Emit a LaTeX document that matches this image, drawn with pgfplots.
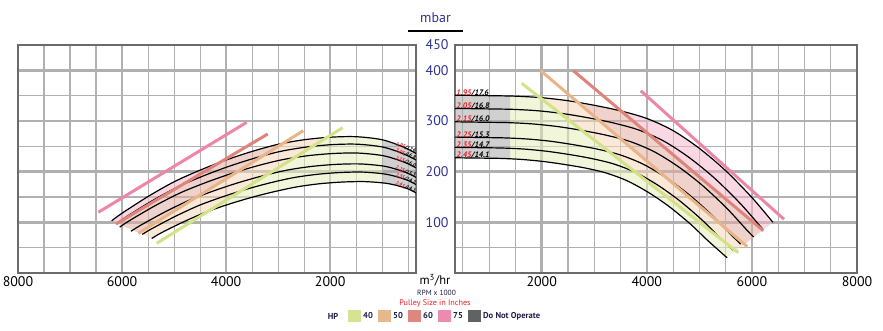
\documentclass[border=0pt]{standalone}
\usepackage{pgfplots}
\pgfplotsset{compat=1.18}
\usepackage{pgfplotstable}
\usepackage{fontspec}
\setmainfont{PT Sans}
\definecolor{framegray}{HTML}{6B6B6B}
\definecolor{gridgray}{HTML}{B0B0B0}
\definecolor{zgreen}{RGB}{230,237,188}
\definecolor{zpeach}{RGB}{246,213,186}
\definecolor{zsalmon}{RGB}{228,173,164}
\definecolor{zpink}{RGB}{244,184,206}
\definecolor{zgray}{RGB}{170,170,170}
\definecolor{lgreen}{HTML}{D2E287}
\definecolor{ltan}{HTML}{E9B487}
\definecolor{lsalmon}{HTML}{DF847A}
\definecolor{lpink}{HTML}{ED86AB}
\definecolor{sgreen}{HTML}{D5E48F}
\definecolor{stan}{HTML}{E7B88C}
\definecolor{ssalmon}{HTML}{DE8780}
\definecolor{spink}{HTML}{EE89B0}
\definecolor{sdark}{HTML}{606264}
\definecolor{navy}{HTML}{2E3192}
\definecolor{lred}{HTML}{ED1C24}
\definecolor{dnavy}{HTML}{1F1D4A}

% ---------- right panel (pressure) curves ----------
\pgfplotstableread{
Q p
350 351
1000 350
1500 349
2000 346
2500 340
3000 331
3500 320
4000 305
4500 281
5000 246
5500 202
6000 149
6400 100
}\RA
\pgfplotstableread{
Q p
350 324.8
962 323.9
1443 323.0
1924 320.2
2405 314.6
2886 306.3
3367 296.1
3848 282.2
4329 260.0
4810 227.6
5291 186.9
5772 137.9
6157 92.5
6208 87
}\RB
\pgfplotstableread{
Q p
350 298.4
922 297.5
1383 296.7
1844 294.1
2305 289.0
2766 281.4
3227 272.0
3688 259.3
4149 238.9
4610 209.1
5071 171.7
5532 126.7
5901 85.0
6034 71
}\RC
\pgfplotstableread{
Q p
350 268.2
874 267.4
1311 266.6
1748 264.3
2185 259.8
2622 252.9
3059 244.5
3496 233.0
3933 214.7
4370 187.9
4807 154.3
5244 113.8
5594 76.4
5787 57
}\RD
\pgfplotstableread{
Q p
350 248.0
841 247.3
1261 246.6
1681 244.5
2102 240.2
2522 233.9
2942 226.1
3362 215.5
3783 198.6
4203 173.8
4623 142.7
5044 105.3
5380 70.7
5646 45
}\RE
\pgfplotstableread{
Q p
350 227.4
805 226.8
1208 226.2
1610 224.2
2013 220.3
2415 214.5
2818 207.4
3220 197.6
3623 182.1
4025 159.4
4428 130.9
4830 96.6
5152 64.8
5528 30
}\RF
\pgfplotstableread{
Q p
350 351
1000 350
1500 349
2000 346
2500 340
3000 331
3500 320
4000 305
4500 281
5000 246
5500 202
6000 149
6400 100
5528 30
5152 64.8
4830 96.6
4428 130.9
4025 159.4
3623 182.1
3220 197.6
2818 207.4
2415 214.5
2013 220.3
1610 224.2
1208 226.2
805 226.8
350 227.4
}\RBand

% ---------- left panel (vacuum) curves ----------
\pgfplotstableread{
Q p
350 236
600 249
1000 263
1500 269
2000 268
2500 263
3000 254
3500 240
4000 223
4500 203
5000 180
5500 151
6000 118
6200 103
}\LA
\pgfplotstableread{
Q p
350 223.0
591 235.3
985 248.5
1478 254.2
1970 253.3
2463 248.5
2955 240.0
3448 226.8
3940 210.7
4433 191.8
4925 170.1
5418 142.7
5910 111.5
6107 97.3
}\LB
\pgfplotstableread{
Q p
350 207.7
585 219.1
975 231.4
1463 236.7
1950 235.8
2438 231.4
2925 223.5
3413 211.2
3900 196.2
4388 178.6
4875 158.4
5363 132.9
5850 103.8
6045 90.6
}\LC
\pgfplotstableread{
Q p
350 188.8
564 199.2
940 210.4
1410 215.2
1880 214.4
2350 210.4
2820 203.2
3290 192.0
3760 178.4
4230 162.4
4700 144.0
5170 120.8
5640 94.4
5828 82.4
}\LD
\pgfplotstableread{
Q p
350 174.6
543 184.3
905 194.6
1358 199.1
1810 198.3
2263 194.6
2715 188.0
3168 177.6
3620 165.0
4073 150.2
4525 133.2
4978 111.7
5430 87.3
5611 76.2
}\LE
\pgfplotstableread{
Q p
350 158.1
525 166.9
875 176.3
1313 180.3
1750 179.6
2188 176.3
2625 170.2
3063 160.8
3500 149.5
3938 136.1
4375 120.6
4813 101.2
5250 79.1
5430 68.0
}\LF
\pgfplotstableread{
Q p
350 236
600 249
1000 263
1500 269
2000 268
2500 263
3000 254
3500 240
4000 223
4500 203
5000 180
5500 151
6000 118
6200 103
5430 68.0
5250 79.1
4813 101.2
4375 120.6
3938 136.1
3500 149.5
3063 160.8
2625 170.2
2188 176.3
1750 179.6
1313 180.3
875 176.3
525 166.9
350 158.1
}\LBand

\pgfplotsset{
  panel/.style={
    scale only axis, height=228bp,
    xmin=350, xmax=8000, ymin=0, ymax=450,
    axis line style={draw=framegray, line width=2.6bp},
    grid=both,
    major grid style={draw=gridgray, line width=2.6bp},
    minor grid style={draw=gridgray, line width=1.1bp},
    xtick={2000,4000,6000,8000},
    xticklabels={2000,4000,6000,8000},
    minor xtick={500,1000,1500,2500,3000,3500,4500,5000,5500,6500,7000,7500},
    minor ytick={50,150,250,350},
    major tick length=0pt, minor tick length=0pt,
    tick style={draw=none},
    xticklabel style={font=\fontsize{14}{14}\selectfont, text=black},
    scaled ticks=false, clip=true,
  },
  crv/.style={black, line width=1.2bp, smooth, no markers},
  pw/.style={line width=3bp, no markers},
  zone/.style={draw=none, fill=#1, fill opacity=0.55, no markers, forget plot},
}
\newcommand{\lblR}{\fontsize{8}{8}\selectfont\bfseries\itshape}
\newcommand{\lblL}{\fontsize{5.2}{5.2}\selectfont\bfseries\itshape}

\begin{document}
\begin{tikzpicture}
\useasboundingbox (0,0) rectangle (883bp,331bp);

% ================= LEFT PANEL =================
\begin{axis}[panel, at={(18bp,58bp)}, anchor=south west, width=398bp,
  x dir=reverse, ytick={100,200,300,400}, yticklabels={}]
  \begin{scope}
    \clip (axis cs:1000,-50) -- (axis cs:7035,-50) -- (axis cs:1000,335.2) -- cycle;
    \addplot[zone=zgreen] table {\LBand};
  \end{scope}
  \begin{scope}
    \clip (axis cs:1000,335.2) -- (axis cs:7035,-50) -- (axis cs:7696,-50) -- (axis cs:1000,377.6) -- cycle;
    \addplot[zone=zpeach] table {\LBand};
  \end{scope}
  \begin{scope}
    \clip (axis cs:1000,377.6) -- (axis cs:7696,-50) -- (axis cs:8524,-50) -- (axis cs:1000,408.3) -- cycle;
    \addplot[zone=zsalmon] table {\LBand};
  \end{scope}
  \begin{scope}
    \clip (axis cs:1000,408.3) -- (axis cs:8524,-50) -- (axis cs:10000,-50) -- (axis cs:10000,500) -- (axis cs:1000,500) -- cycle;
    \addplot[zone=zpink] table {\LBand};
  \end{scope}
  \begin{scope}
    \clip (axis cs:0,-50) rectangle (axis cs:1000,500);
    \addplot[zone=zgray] table {\LBand};
  \end{scope}
  \addplot[crv] table {\LA} node[pos=0, anchor=base east, rotate=-22, font=\lblL, inner sep=0.5bp] {\textcolor{lred}{1.95}/17.6};
  \addplot[crv] table {\LB} node[pos=0, anchor=base east, rotate=-22, font=\lblL, inner sep=0.5bp] {\textcolor{lred}{2.05}/16.8};
  \addplot[crv] table {\LC} node[pos=0, anchor=base east, rotate=-22, font=\lblL, inner sep=0.5bp] {\textcolor{lred}{2.15}/16.0};
  \addplot[crv] table {\LD} node[pos=0, anchor=base east, rotate=-22, font=\lblL, inner sep=0.5bp] {\textcolor{lred}{2.25}/15.3};
  \addplot[crv] table {\LE} node[pos=0, anchor=base east, rotate=-22, font=\lblL, inner sep=0.5bp] {\textcolor{lred}{2.35}/14.7};
  \addplot[crv] table {\LF} node[pos=0, anchor=base east, rotate=-22, font=\lblL, inner sep=0.5bp] {\textcolor{lred}{2.45}/14.1};
  \addplot[pw, lpink] coordinates {(3604,297.4) (6456,119.8)};
  \addplot[pw, lsalmon] coordinates {(3200,274.3) (6116,96.7)};
  \addplot[pw, ltan] coordinates {(2516,280.8) (5687,78.3)};
  \addplot[pw, lgreen] coordinates {(1759,286.8) (5334,58.6)};
\end{axis}

% ================= RIGHT PANEL =================
\begin{axis}[panel, at={(455bp,58bp)}, anchor=south west, width=402bp,
  ytick={100,200,300,400,450}, yticklabels={100,200,300,400,450},
  yticklabel style={font=\fontsize{14}{14}\selectfont, text=navy, xshift=-3bp}]
  \begin{scope}
    \clip (axis cs:1400,-50) -- (axis cs:6852,-50) -- (axis cs:1400,392.2) -- cycle;
    \addplot[zone=zgreen] table {\RBand};
  \end{scope}
  \begin{scope}
    \clip (axis cs:1400,392.2) -- (axis cs:6852,-50) -- (axis cs:7065,-50) -- (axis cs:1400,450.6) -- cycle;
    \addplot[zone=zpeach] table {\RBand};
  \end{scope}
  \begin{scope}
    \clip (axis cs:1400,450.6) -- (axis cs:7065,-50) -- (axis cs:7746,-50) -- (axis cs:1448,500) -- (axis cs:1400,500) -- cycle;
    \addplot[zone=zsalmon] table {\RBand};
  \end{scope}
  \begin{scope}
    \clip (axis cs:1448,500) -- (axis cs:7746,-50) -- (axis cs:9000,-50) -- (axis cs:9000,500) -- cycle;
    \addplot[zone=zpink] table {\RBand};
  \end{scope}
  \begin{scope}
    \clip (axis cs:0,-50) rectangle (axis cs:1400,500);
    \addplot[zone=zgray] table {\RBand};
  \end{scope}
  \addplot[crv] table {\RA} node[pos=0, anchor=base west, font=\lblR, inner sep=0.8bp] {\textcolor{lred}{1.95}/17.6};
  \addplot[crv] table {\RB} node[pos=0, anchor=base west, font=\lblR, inner sep=0.8bp] {\textcolor{lred}{2.05}/16.8};
  \addplot[crv] table {\RC} node[pos=0, anchor=base west, font=\lblR, inner sep=0.8bp] {\textcolor{lred}{2.15}/16.0};
  \addplot[crv] table {\RD} node[pos=0, anchor=base west, font=\lblR, inner sep=0.8bp] {\textcolor{lred}{2.25}/15.3};
  \addplot[crv] table {\RE} node[pos=0, anchor=base west, font=\lblR, inner sep=0.8bp] {\textcolor{lred}{2.35}/14.7};
  \addplot[crv] table {\RF} node[pos=0, anchor=base west, font=\lblR, inner sep=0.8bp] {\textcolor{lred}{2.45}/14.1};
  \addplot[pw, lgreen] coordinates {(1619,374.4) (5741,40.1)};
  \addplot[pw, ltan] coordinates {(1981,399.3) (5912,51.9)};
  \addplot[pw, lsalmon] coordinates {(2601,399.3) (6217,83.5)};
  \addplot[pw, lpink] coordinates {(3884,359.8) (6611,106)};
\end{axis}

% ================= middle texts & legend =================
\node[font=\fontsize{14}{14}\selectfont, text=navy] at (435.5bp,313bp) {mbar};
\draw[black, line width=2bp] (408bp,299.5bp) -- (463bp,299.5bp);
\node[font=\fontsize{12.5}{12.5}\selectfont, text=black] at (435bp,51bp) {m\textsuperscript{3}/hr};
\node[font=\fontsize{7.5}{7.5}\selectfont, text=dnavy] at (436.5bp,38.3bp) {RPM x 1000};
\node[font=\fontsize{8.2}{8.2}\selectfont, text=lred] at (435bp,27.3bp) {Pulley Size in Inches};
\begin{scope}[every node/.style={font=\fontsize{8.6}{8.6}\selectfont\bfseries, text=dnavy, inner sep=0pt}]
  \node at (333bp,15bp) {HP};
  \fill[sgreen] (348bp,9bp) rectangle (361bp,21bp);
  \node[anchor=west] at (363bp,15bp) {40};
  \fill[stan] (378bp,9bp) rectangle (391bp,21bp);
  \node[anchor=west] at (393bp,15bp) {50};
  \fill[ssalmon] (408bp,9bp) rectangle (421bp,21bp);
  \node[anchor=west] at (423bp,15bp) {60};
  \fill[spink] (438bp,9bp) rectangle (451bp,21bp);
  \node[anchor=west] at (453bp,15bp) {75};
  \fill[sdark] (468bp,9bp) rectangle (481bp,21bp);
  \node[anchor=west] at (483bp,15bp) {Do Not Operate};
\end{scope}
\end{tikzpicture}
\end{document}
